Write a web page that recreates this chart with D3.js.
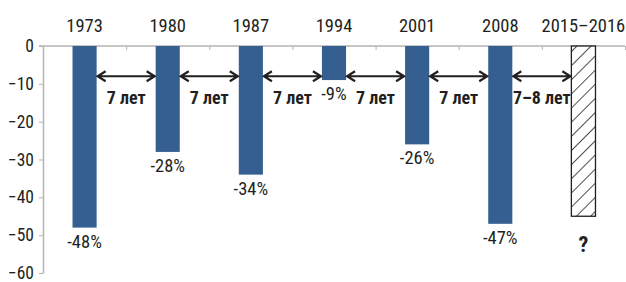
<!DOCTYPE html>
<html lang="ru">
<head>
<meta charset="utf-8">
<title>Падения рынка</title>
<script src="https://d3js.org/d3.v7.min.js"></script>
<style>
  body { margin: 0; background: #fff; }
  text { font-family: "Liberation Sans Narrow", "Roboto Condensed", "DejaVu Sans Condensed", sans-serif; fill: #231f20; }
  .year { font-size: 18.5px; }
  .tick text { font-size: 17.5px; }
  .val { font-size: 18.5px; }
  .gap { font-size: 18px; font-weight: bold; }
  .q { font-size: 22px; font-weight: bold; }
</style>
</head>
<body>
<script>
// data
var years = ["1973", "1980", "1987", "1994", "2001", "2008", "2015–2016"];
var values = [-48, -28, -34, -9, -26, -47, -45];
var valueLabels = ["-48%", "-28%", "-34%", "-9%", "-26%", "-47%", "?"];
var gapLabels = ["7 лет", "7 лет", "7 лет", "7 лет", "7 лет", "7–8 лет"];
var yTicks = [0, -10, -20, -30, -40, -50, -60];
var arrowLevel = -8;

var w = 626, h = 282;
var margin = {top: 46, right: 1, bottom: 9, left: 43};

var svg = d3.select("body").append("svg")
  .attr("width", w)
  .attr("height", h);

var defs = svg.append("defs");
var pat = defs.append("pattern")
  .attr("id", "hatch")
  .attr("patternUnits", "userSpaceOnUse")
  .attr("width", 10)
  .attr("height", 10)
  .attr("patternTransform", "rotate(45)");
pat.append("rect").attr("width", 10).attr("height", 10).attr("fill", "#fff");
pat.append("line")
  .attr("x1", 0).attr("y1", 0).attr("x2", 0).attr("y2", 10)
  .attr("stroke", "#231f20").attr("stroke-width", 1.6);

var x = d3.scaleBand()
  .domain(years)
  .range([margin.left, w - margin.right])
  .paddingInner(0.71)
  .paddingOuter(0.355);

var y = d3.scaleLinear()
  .domain([0, -60])
  .range([margin.top, h - margin.bottom]);

var edge = d3.scaleLinear().domain([0, years.length]).range([margin.left, w - margin.right]);

// top (zero) axis with ticks between categories
var xAxis = svg.append("g")
  .attr("transform", "translate(0," + y(0) + ")")
  .call(d3.axisBottom(edge).tickValues(d3.range(1, years.length + 1)).tickFormat("").tickSize(4).tickSizeOuter(0));
xAxis.select(".domain").attr("stroke", "#b3b3b3").attr("stroke-width", 1.5)
  .attr("d", "M" + (margin.left - 4) + ",0H" + (w - margin.right));
xAxis.selectAll(".tick line").attr("stroke", "#b3b3b3");

// y axis
var yAxis = svg.append("g")
  .attr("transform", "translate(" + margin.left + ",0)")
  .call(d3.axisLeft(y).tickValues(yTicks).tickSize(4).tickSizeOuter(0).tickPadding(5));
yAxis.select(".domain").attr("stroke", "#b3b3b3").attr("stroke-width", 1.5);
yAxis.selectAll(".tick line").attr("stroke", "#b3b3b3");
yAxis.selectAll(".tick text").attr("fill", "#231f20");

// bars
svg.selectAll("rect.bar")
  .data(values)
  .enter()
  .append("rect")
  .attr("class", "bar")
  .attr("x", function(d, i) { return x(years[i]); })
  .attr("y", y(0))
  .attr("width", x.bandwidth())
  .attr("height", function(d) { return y(d) - y(0); })
  .attr("fill", function(d, i) { return i === years.length - 1 ? "url(#hatch)" : "#365f91"; })
  .attr("stroke", function(d, i) { return i === years.length - 1 ? "#231f20" : "none"; })
  .attr("stroke-width", 1.3);

// year labels
svg.selectAll("text.year")
  .data(years)
  .enter()
  .append("text")
  .attr("class", "year")
  .attr("x", function(d) { return x(d) + x.bandwidth() / 2; })
  .attr("y", 32)
  .attr("text-anchor", "middle")
  .text(function(d) { return d; });

// value labels
svg.selectAll("text.val")
  .data(values)
  .enter()
  .append("text")
  .attr("class", function(d, i) { return i === years.length - 1 ? "q" : "val"; })
  .attr("x", function(d, i) { return x(years[i]) + x.bandwidth() / 2; })
  .attr("y", function(d, i) { return y(d) + (i === years.length - 1 ? 36 : 20); })
  .attr("text-anchor", "middle")
  .text(function(d, i) { return valueLabels[i]; });

// arrows between bars
var ay = y(arrowLevel);
var arrows = svg.selectAll("g.arrow")
  .data(gapLabels)
  .enter()
  .append("g")
  .attr("class", "arrow");

arrows.append("path")
  .attr("d", function(d, i) {
    var x0 = x(years[i]) + x.bandwidth() + 1;
    var x1 = x(years[i + 1]) - 1;
    return "M" + x0 + "," + ay + "H" + x1 +
      "M" + (x0 + 8) + "," + (ay - 5) + "L" + x0 + "," + ay + "L" + (x0 + 8) + "," + (ay + 5) +
      "M" + (x1 - 8) + "," + (ay - 5) + "L" + x1 + "," + ay + "L" + (x1 - 8) + "," + (ay + 5);
  })
  .attr("fill", "none")
  .attr("stroke", "#231f20")
  .attr("stroke-width", 2.2);

arrows.append("text")
  .attr("class", "gap")
  .attr("x", function(d, i) { return edge(i + 1); })
  .attr("y", ay + 28)
  .attr("text-anchor", "middle")
  .text(function(d) { return d; });
</script>
</body>
</html>
